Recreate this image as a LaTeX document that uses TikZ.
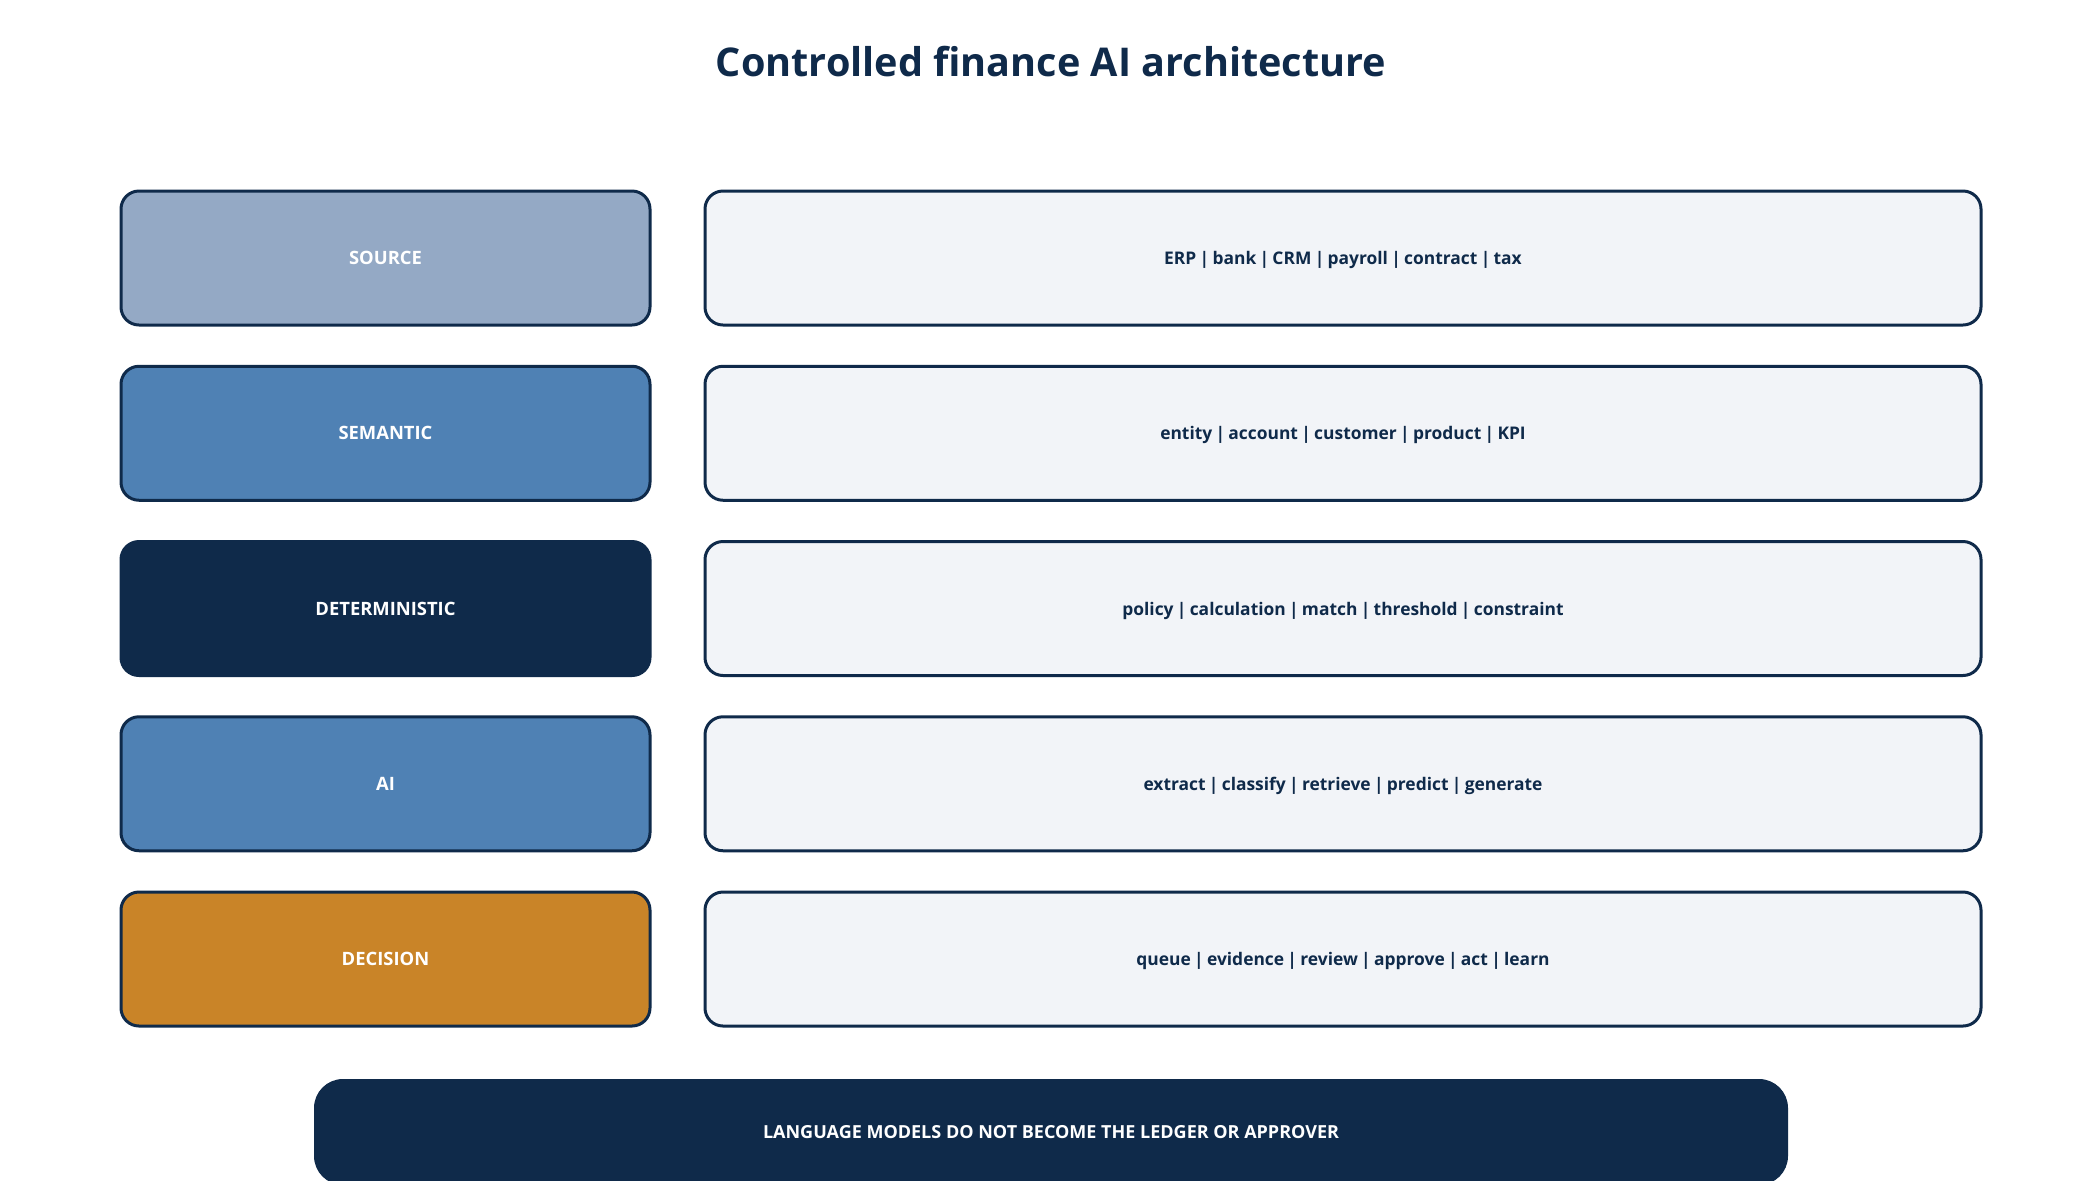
\documentclass[tikz,border=0pt]{standalone}
\usepackage{fontspec}
\setmainfont{Open Sans}
\definecolor{navy}{HTML}{0F2A4A}
\definecolor{srcfill}{HTML}{94A9C5}
\definecolor{semfill}{HTML}{4F81B4}
\definecolor{decfill}{HTML}{C98428}
\definecolor{panel}{HTML}{F2F4F8}
\newcommand{\tightsp}{\spaceskip=1.65pt plus 0.5pt minus 0.3pt\relax}
\begin{document}
\begin{tikzpicture}[x=0.5pt,y=-0.5pt,
  layer/.style={draw=navy, line width=1.5pt, rounded corners=9pt,
    minimum width=264.5pt, minimum height=67pt, inner sep=0pt,
    text=white, font=\fontsize{9.2pt}{11pt}\selectfont\bfseries},
  detail/.style={draw=navy, line width=1.5pt, rounded corners=9pt, fill=panel,
    minimum width=638pt, minimum height=67pt, inner sep=0pt, text depth=0pt,
    text=navy, font=\fontsize{8.7pt}{11pt}\selectfont\bfseries\tightsp},
  banner/.style={fill=navy, draw=navy, line width=1pt, rounded corners=14pt,
    minimum width=736pt, minimum height=52pt, inner sep=0pt,
    text=white, font=\fontsize{9pt}{11pt}\selectfont\bfseries},
  titlestyle/.style={text=navy, font=\fontsize{19.8pt}{24pt}\selectfont\bfseries, inner sep=0pt}
]
\useasboundingbox (0,0) rectangle (2100,1180);
\fill[white] (0,0) rectangle (2100,1180);

\node[titlestyle] (title) at (1051,62) {Controlled finance AI architecture};

\node[layer, fill=srcfill] (l1) at (385.5,258) {SOURCE};
\node[layer, fill=semfill] (l2) at (385.5,433.25) {SEMANTIC};
\node[layer, fill=navy]    (l3) at (385.5,608.5) {DETERMINISTIC};
\node[layer, fill=semfill] (l4) at (385.5,783.75) {AI};
\node[layer, fill=decfill] (l5) at (385.5,959) {DECISION};

\node[detail] (d1) at (1343,258) {ERP | bank | CRM | payroll | contract | tax};
\node[detail] (d2) at (1343,433.25) {entity | account | customer | product | KPI};
\node[detail] (d3) at (1343,608.5) {policy | calculation | match | threshold | constraint};
\node[detail] (d4) at (1343,783.75) {extract | classify | retrieve | predict | generate};
\node[detail] (d5) at (1343,959) {queue | evidence | review | approve | act | learn};

\node[banner] (note) at (1051,1132) {LANGUAGE MODELS DO NOT BECOME THE LEDGER OR APPROVER};
\end{tikzpicture}
\end{document}
